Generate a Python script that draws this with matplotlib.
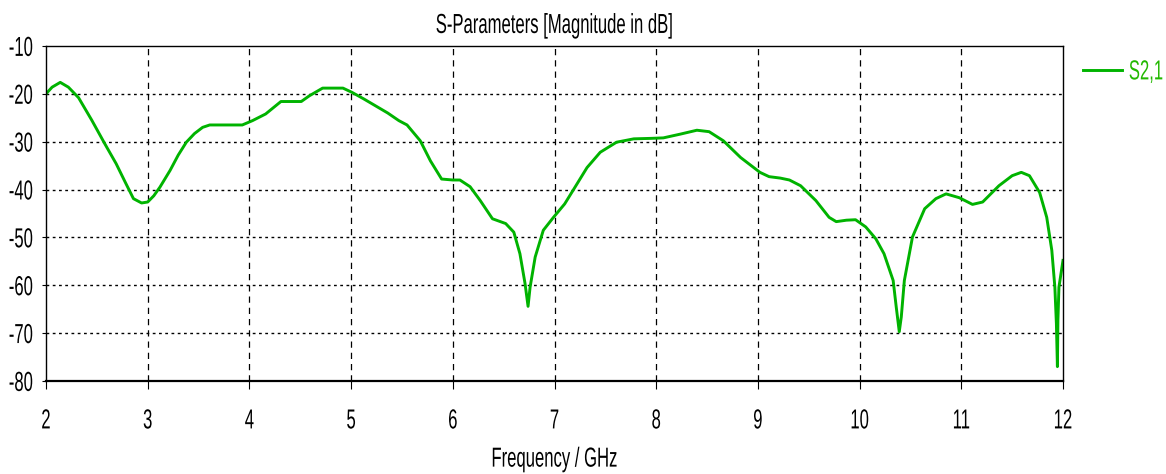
import matplotlib
matplotlib.use("Agg")
import matplotlib.pyplot as plt
from matplotlib import font_manager
from matplotlib.patheffects import AbstractPathEffect
from matplotlib.transforms import Affine2D

freq_ghz = [2.00, 2.06, 2.14, 2.22, 2.32, 2.45, 2.58, 2.69, 2.78, 2.86, 2.94, 3.00, 3.06, 3.12, 3.22,
            3.30, 3.38, 3.46, 3.54, 3.61, 3.75, 3.93, 4.03, 4.16, 4.31, 4.51, 4.59, 4.72, 4.92,
            5.01, 5.12, 5.24, 5.36, 5.47, 5.55, 5.68, 5.78, 5.89, 6.00, 6.07, 6.17, 6.27, 6.39,
            6.52, 6.60, 6.66, 6.71, 6.74, 6.76, 6.81, 6.89, 6.99, 7.10, 7.19, 7.32, 7.45, 7.61,
            7.78, 7.95, 8.07, 8.24, 8.40, 8.52, 8.66, 8.83, 9.02, 9.11, 9.22, 9.31, 9.42, 9.57,
            9.70, 9.77, 9.87, 9.96, 10.06, 10.16, 10.24, 10.33, 10.36, 10.39, 10.41, 10.44, 10.52,
            10.64, 10.75, 10.85, 10.98, 11.11, 11.21, 11.37, 11.50, 11.59, 11.67, 11.77, 11.84,
            11.89, 11.92, 11.935, 11.945, 11.95, 11.96, 12.00]
s21_db = [-20.0, -18.6, -17.6, -18.6, -20.8, -25.5, -30.5, -34.6, -38.5, -41.9, -42.8, -42.6, -41.3, -39.5, -36.0,
          -32.8, -30.1, -28.3, -27.0, -26.5, -26.5, -26.5, -25.6, -24.2, -21.6, -21.6, -20.4, -18.8, -18.8,
          -19.7, -21.0, -22.5, -24.0, -25.6, -26.5, -29.8, -34.0, -37.8, -38.0, -38.0, -39.4, -42.3, -46.1,
          -47.1, -48.9, -53.4, -59.6, -64.4, -60.4, -54.1, -48.5, -45.8, -43.0, -39.9, -35.4, -32.2, -30.1,
          -29.4, -29.3, -29.2, -28.4, -27.6, -27.9, -29.8, -33.3, -36.4, -37.3, -37.6, -38.0, -39.2, -42.3,
          -45.8, -46.7, -46.4, -46.3, -47.8, -50.3, -53.4, -59.0, -64.5, -69.7, -66.6, -59.0, -49.9,
          -44.0, -41.9, -40.9, -41.7, -43.1, -42.6, -39.2, -37.1, -36.4, -37.1, -40.6, -45.8,
          -52.7, -60.4, -68.0, -77.0, -67.3, -60.4, -54.8]

x_ticks = [2, 3, 4, 5, 6, 7, 8, 9, 10, 11, 12]
y_ticks = [-80, -70, -60, -50, -40, -30, -20, -10]
title_text = "S-Parameters [Magnitude in dB]"
x_label = "Frequency / GHz"
series_label = "S2,1"

avail = {f.name for f in font_manager.fontManager.ttflist}
if "Liberation Sans Narrow" in avail:
    fam = ["Liberation Sans Narrow", "DejaVu Sans"]
elif "Liberation Sans" in avail:
    fam = ["Liberation Sans", "DejaVu Sans"]
else:
    fam = ["DejaVu Sans"]
plt.rcParams['font.family'] = fam


class TallText(AbstractPathEffect):
    """Stretch glyphs vertically about the middle of the cap height (tall, narrow UI font look)."""
    def __init__(self, sy=1.65, cy=36.0):
        super().__init__()
        self.sy, self.cy = sy, cy

    def draw_path(self, renderer, gc, tpath, affine, rgbFace=None):
        t = Affine2D().translate(0, -self.cy).scale(1.0, self.sy).translate(0, self.cy) + affine
        renderer.draw_path(gc, tpath, t, rgbFace)


tall = [TallText()]
green = "#00b300"
W, H = 1166, 474
fig = plt.figure(figsize=(W / 100, H / 100), dpi=100)
ax = fig.add_axes([46 / W, 1 - 381 / H, (1063 - 46) / W, (381 - 46) / H])

ax.plot(freq_ghz, s21_db, color=green, lw=2.1, label=series_label, solid_joinstyle="round")
ax.set_xlim(2, 12)
ax.set_ylim(-80, -10)
ax.set_xticks(x_ticks)
ax.set_yticks(y_ticks)
ax.set_xticklabels([str(t) for t in x_ticks])
ax.set_yticklabels([str(t) for t in y_ticks])

for t in x_ticks[1:-1]:
    ax.axvline(t, color="black", lw=0.9, ls=(0, (5, 4)), zorder=0)
for t in y_ticks[1:-1]:
    ax.axhline(t, color="black", lw=1.0, ls=(0, (2, 2.5)), zorder=0)

for s in ax.spines.values():
    s.set_color("black")
    s.set_linewidth(1.0)
ax.spines["bottom"].set_linewidth(1.6)

ax.tick_params(axis="x", direction="out", length=5.8, width=0.8, labelsize=12, pad=16.9, colors="black")
ax.tick_params(axis="y", direction="out", length=3.0, width=0.8, labelsize=12, pad=6.5, colors="black")
for lbl in ax.get_xticklabels() + ax.get_yticklabels():
    lbl.set_path_effects(tall)

ttl = ax.set_title(title_text, fontsize=12, pad=12.2)
ttl.set_path_effects(tall)
xl = ax.set_xlabel(x_label, fontsize=12, labelpad=16.7)
xl.set_path_effects(tall)

leg = fig.legend(handles=ax.get_lines(), labels=[series_label], loc="center left",
                 bbox_to_anchor=(1083 / W, 1 - 71 / H), frameon=False, fontsize=12,
                 handlelength=2.33, handletextpad=0.42, borderaxespad=0, borderpad=0)
for t in leg.get_texts():
    t.set_color("#22b800")
    t.set_path_effects(tall)

fig.savefig("out.png", dpi=100)
